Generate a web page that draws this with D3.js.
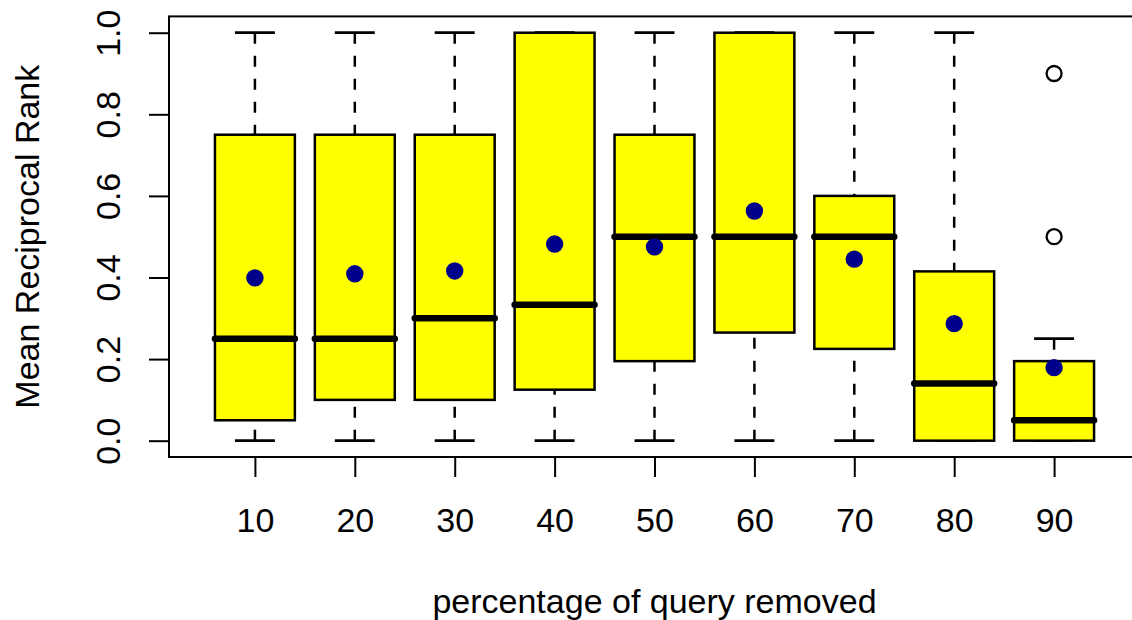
<!DOCTYPE html>
<html>
<head>
<meta charset="utf-8">
<script src="https://cdn.jsdelivr.net/npm/d3@7"></script>
<style>
  body { margin: 0; background: #fff; }
  svg { display: block; font-family: "Liberation Sans", Arial, Helvetica, sans-serif; }
</style>
</head>
<body>
<div id="chart"></div>
<script>
// groups (percentage of query removed)
const groups = ["10", "20", "30", "40", "50", "60", "70", "80", "90"];
// box statistics
const whiskerLow  = [0, 0, 0, 0, 0, 0, 0, 0, 0];
const q1          = [0.05, 0.10, 0.10, 0.125, 0.195, 0.265, 0.225, 0, 0];
const medians     = [0.25, 0.25, 0.30, 0.333, 0.50, 0.50, 0.50, 0.14, 0.05];
const q3          = [0.75, 0.75, 0.75, 1.00, 0.75, 1.00, 0.60, 0.415, 0.195];
const whiskerHigh = [1, 1, 1, 1, 1, 1, 1, 1, 0.25];
const means       = [0.399, 0.409, 0.416, 0.482, 0.475, 0.563, 0.445, 0.287, 0.179];
const outlierGroup  = ["90", "90"];
const outlierValues = [0.9, 0.5];
const yTicks = [0, 0.2, 0.4, 0.6, 0.8, 1.0];

const width = 1132, height = 620;
const fontSize = "34px";

const data = groups.map((g, i) => ({
  g: g, i: i + 1,
  lo: whiskerLow[i], q1: q1[i], med: medians[i], q3: q3[i], hi: whiskerHigh[i], mean: means[i]
}));
const outliers = outlierValues.map((v, k) => ({ i: groups.indexOf(outlierGroup[k]) + 1, v: v }));

const svg = d3.select("#chart")
  .append("svg")
    .attr("width", width)
    .attr("height", height);

// R style: xlim 0.5..9.5 extended by 4%
const x = d3.scaleLinear()
  .domain([0.14, 9.86])
  .range([169, 1140]);

const y = d3.scaleLinear()
  .domain([-0.04, 1.04])
  .range([457, 16.4]);

const boxW = x(1.4) - x(1);
const capW = x(1.2) - x(1);

// whiskers (dashed)
const wh = svg.append("g");
wh.selectAll(".wlo")
  .data(data)
  .enter().append("line")
    .attr("x1", d => x(d.i)).attr("x2", d => x(d.i))
    .attr("y1", d => y(d.lo)).attr("y2", d => y(d.q1))
    .attr("stroke", "#000").attr("stroke-width", 2.5)
    .attr("stroke-dasharray", "11,12");
wh.selectAll(".whi")
  .data(data)
  .enter().append("line")
    .attr("x1", d => x(d.i)).attr("x2", d => x(d.i))
    .attr("y1", d => y(d.hi)).attr("y2", d => y(d.q3))
    .attr("stroke", "#000").attr("stroke-width", 2.5)
    .attr("stroke-dasharray", "11,12");

// staples
["lo", "hi"].forEach(k => {
  wh.selectAll(".cap-" + k)
    .data(data)
    .enter().append("line")
      .attr("x1", d => x(d.i) - capW).attr("x2", d => x(d.i) + capW)
      .attr("y1", d => y(d[k])).attr("y2", d => y(d[k]))
      .attr("stroke", "#000").attr("stroke-width", 2.8);
});

// boxes
svg.append("g").selectAll("rect")
  .data(data)
  .enter().append("rect")
    .attr("x", d => x(d.i) - boxW)
    .attr("width", boxW * 2)
    .attr("y", d => y(d.q3))
    .attr("height", d => y(d.q1) - y(d.q3))
    .attr("fill", "#ffff00")
    .attr("stroke", "#000")
    .attr("stroke-width", 2.5);

// medians
svg.append("g").selectAll("line")
  .data(data)
  .enter().append("line")
    .attr("x1", d => x(d.i) - boxW).attr("x2", d => x(d.i) + boxW)
    .attr("y1", d => y(d.med)).attr("y2", d => y(d.med))
    .attr("stroke", "#000")
    .attr("stroke-width", 6.5)
    .attr("stroke-linecap", "round");

// outliers
svg.append("g").selectAll("circle")
  .data(outliers)
  .enter().append("circle")
    .attr("cx", d => x(d.i))
    .attr("cy", d => y(d.v))
    .attr("r", 7.5)
    .attr("fill", "none")
    .attr("stroke", "#000")
    .attr("stroke-width", 2.3);

// means
svg.append("g").selectAll("circle")
  .data(data)
  .enter().append("circle")
    .attr("cx", d => x(d.i))
    .attr("cy", d => y(d.mean))
    .attr("r", 8.7)
    .attr("fill", "#00008b");

// frame
svg.append("rect")
  .attr("x", 169).attr("y", 16.4)
  .attr("width", 1140 - 169).attr("height", 457 - 16.4)
  .attr("fill", "none")
  .attr("stroke", "#000")
  .attr("stroke-width", 2);

// x axis
const xAxis = svg.append("g")
  .attr("transform", "translate(0,457)")
  .call(d3.axisBottom(x)
    .tickValues(data.map(d => d.i))
    .tickFormat(i => groups[i - 1])
    .tickSize(20)
    .tickSizeOuter(0));
xAxis.select(".domain").remove();
xAxis.selectAll(".tick line").attr("stroke", "#000").attr("stroke-width", 2);
xAxis.selectAll(".tick text")
  .attr("y", 74.7).attr("dy", 0)
  .attr("fill", "#000")
  .style("font-size", fontSize)
  .style("font-family", "Liberation Sans, Arial, sans-serif");

// y axis
const yAxis = svg.append("g")
  .attr("transform", "translate(169,0)")
  .call(d3.axisLeft(y)
    .tickValues(yTicks)
    .tickFormat(d3.format(".1f"))
    .tickSize(20)
    .tickSizeOuter(0));
yAxis.select(".domain").remove();
yAxis.selectAll(".tick line").attr("stroke", "#000").attr("stroke-width", 2);
yAxis.selectAll(".tick text")
  .attr("transform", "rotate(-90)")
  .attr("x", 0).attr("y", -49).attr("dy", 0)
  .attr("text-anchor", "middle")
  .attr("fill", "#000")
  .style("font-size", fontSize)
  .style("font-family", "Liberation Sans, Arial, sans-serif");

// axis titles
svg.append("text")
  .attr("x", (169 + 1140) / 2)
  .attr("y", 612.5)
  .attr("text-anchor", "middle")
  .style("font-size", fontSize)
  .text("percentage of query removed");

svg.append("text")
  .attr("transform", "translate(39," + y(0.5) + ") rotate(-90)")
  .attr("text-anchor", "middle")
  .style("font-size", fontSize)
  .text("Mean Reciprocal Rank");
</script>
</body>
</html>
